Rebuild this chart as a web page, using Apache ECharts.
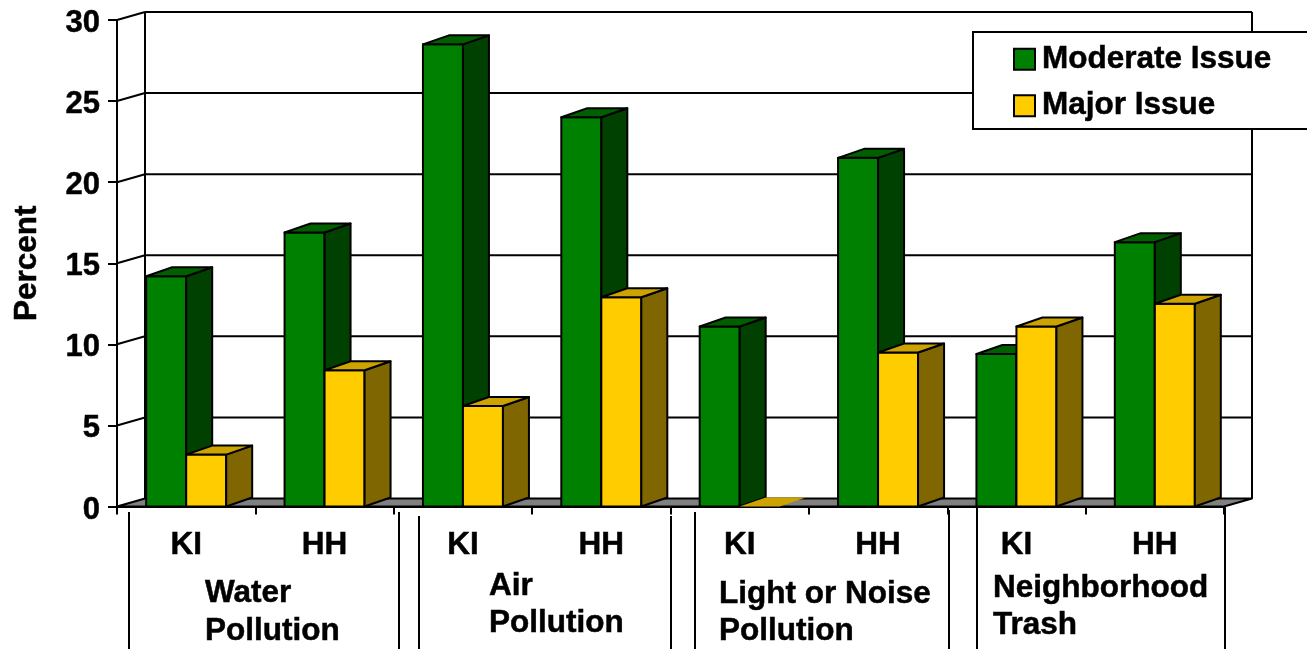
<!DOCTYPE html>
<html><head><meta charset="utf-8">
<style>html,body{margin:0;padding:0;background:#fff}#c{width:1307px;height:649px}</style>
<script src="https://cdn.jsdelivr.net/npm/echarts@6/dist/echarts.min.js"></script>
</head><body><div id="c"></div>
<script>
const subCategories = ['KI','HH','KI','HH','KI','HH','KI','HH'];
const moderate = [14.2,16.9,28.5,24.0,11.1,21.5,9.4,16.3];
const major = [3.2,8.4,6.2,12.9,0,9.5,11.1,12.5];
const yTicks = [0,5,10,15,20,25,30];
const groupLabels = [
  {lines:['Water','Pollution'], x:205, y:[593,631]},
  {lines:['Air','Pollution'], x:489, y:[586,623]},
  {lines:['Light or Noise','Pollution'], x:719, y:[594,631]},
  {lines:['Neighborhood','Trash'], x:993, y:[588,625]}
];
const separators = [[129,512],[399,512],[419,516],[671,516],[695,512],[949,510],[977,507],[1225,507]];

const FONT = '"Liberation Sans", Arial, sans-serif';
const FS = 31.5;
const HEAVY = {textBorderColor:'#000', textBorderWidth:0.5};
const wallDX = 28, wallDY = -8;
const barDX = 26, barDY = -9;
const BARW = 40;

function poly(points, fill, lw){
  return {type:'polygon', shape:{points}, style:{fill, stroke: lw ? '#000' : null, lineWidth: lw || 0, lineJoin:'round'}};
}
function barRenderer(side, front, sideC, topC){
  return function(params, api){
    const i = api.value(0), v = api.value(1);
    const base = api.coord([i,0]), top = api.coord([i,v]);
    const x0 = side < 0 ? base[0]-BARW : base[0], x1 = x0+BARW;
    const y0 = base[1], y1 = top[1];
    const children = [];
    if (v > 0) {
      children.push(poly([[x0,y0],[x1,y0],[x1,y1],[x0,y1]], front, 2));
      children.push(poly([[x1,y0],[x1+barDX,y0+barDY],[x1+barDX,y1+barDY],[x1,y1]], sideC, 2));
      children.push(poly([[x0,y1],[x1,y1],[x1+barDX,y1+barDY],[x0+barDX,y1+barDY]], topC, 2));
    } else {
      children.push(poly([[x0,y1],[x1,y1],[x1+barDX,y1+barDY],[x0+barDX,y1+barDY]], topC, 0));
    }
    return {type:'group', children};
  };
}
function wallRenderer(params, api){
  const v = api.value(1);
  const n = subCategories.length;
  const band = api.size([1,0])[0];
  const L = api.coord([0,v]), R = api.coord([n-1,v]);
  const xl = L[0]-band/2, xr = R[0]+band/2, y = L[1];
  const line = (a,b,c,d)=>({type:'line', shape:{x1:a,y1:b,x2:c,y2:d}, style:{stroke:'#000', lineWidth:2}});
  const children = [];
  if (v === 0) {
    const t = api.coord([0,yTicks[yTicks.length-1]])[1];
    children.push(poly([[xl,y],[xl+wallDX,y+wallDY],[xr+wallDX,y+wallDY],[xr,y]], '#808080', 2));
    children.push(line(xl+wallDX,y+wallDY,xl+wallDX,t+wallDY));
    children.push(line(xr+wallDX,y+wallDY,xr+wallDX,t+wallDY));
  } else {
    children.push(line(xl,y,xl+wallDX,y+wallDY));
    children.push(line(xl+wallDX,y+wallDY,xr+wallDX,y+wallDY));
  }
  return {type:'group', children};
}

const graphic = [];
separators.forEach(s=>graphic.push({type:'line', shape:{x1:s[0],y1:s[1],x2:s[0],y2:649}, style:{stroke:'#000',lineWidth:2}, silent:true}));
groupLabels.forEach(g=>g.lines.forEach((t,k)=>graphic.push({type:'text', x:g.x, y:g.y[k],
  style:{text:t, font:'bold '+FS+'px '+FONT, fill:'#000', textAlign:'left', textVerticalAlign:'middle', stroke:'#000', lineWidth:0.5}, silent:true})));

const chart = echarts.init(document.getElementById('c'), null, {renderer:'canvas'});
chart.setOption({
  animation:false,
  backgroundColor:'#fff',
  grid:{left:117, right:83, top:20, bottom:142.5, containLabel:false, outerBoundsMode:'none'},
  xAxis:{type:'category', data:subCategories, boundaryGap:true,
    axisLine:{show:true, lineStyle:{color:'#000',width:2}},
    axisTick:{show:true, length:8, lineStyle:{color:'#000',width:2}},
    axisLabel:Object.assign({show:true, interval:0, margin:23, color:'#000', fontFamily:FONT, fontWeight:'bold', fontSize:FS, hideOverlap:false}, HEAVY),
    splitLine:{show:false}},
  yAxis:{type:'value', min:0, max:30, interval:5, name:'Percent', nameLocation:'middle', nameGap:74, nameRotate:90,
    nameTextStyle:Object.assign({color:'#000', fontFamily:FONT, fontWeight:'bold', fontSize:FS}, HEAVY),
    axisLine:{show:true, lineStyle:{color:'#000',width:2}},
    axisTick:{show:true, length:9, lineStyle:{color:'#000',width:2}},
    axisLabel:Object.assign({margin:17, color:'#000', fontFamily:FONT, fontWeight:'bold', fontSize:31, verticalAlign:'top', lineHeight:7}, HEAVY),
    splitLine:{show:false}},
  legend:{show:true, orient:'vertical', left:973, top:32, padding:[11,60,7,40],
    backgroundColor:'#fff', borderColor:'#000', borderWidth:2, itemGap:14, itemWidth:21, itemHeight:21,
    icon:'rect', textStyle:Object.assign({color:'#000', fontFamily:FONT, fontWeight:'bold', fontSize:FS, padding:[0,0,0,2]}, HEAVY),
    data:['Moderate Issue','Major Issue'], selectedMode:false},
  graphic,
  series:[
    {type:'custom', name:'walls', z:1, silent:true, renderItem:wallRenderer, encode:{x:0,y:1}, data:yTicks.map(v=>[0,v])},
    {type:'custom', name:'Moderate Issue', z:2, silent:true, itemStyle:{color:'#008000',borderColor:'#000',borderWidth:2},
      renderItem:barRenderer(-1,'#008000','#004000','#006000'), encode:{x:0,y:1}, data:moderate.map((v,i)=>[i,v])},
    {type:'custom', name:'Major Issue', z:3, silent:true, itemStyle:{color:'#FFCC00',borderColor:'#000',borderWidth:2},
      renderItem:barRenderer(1,'#FFCC00','#806600','#CCA300'), encode:{x:0,y:1}, data:major.map((v,i)=>[i,v])}
  ]
});
</script></body></html>
